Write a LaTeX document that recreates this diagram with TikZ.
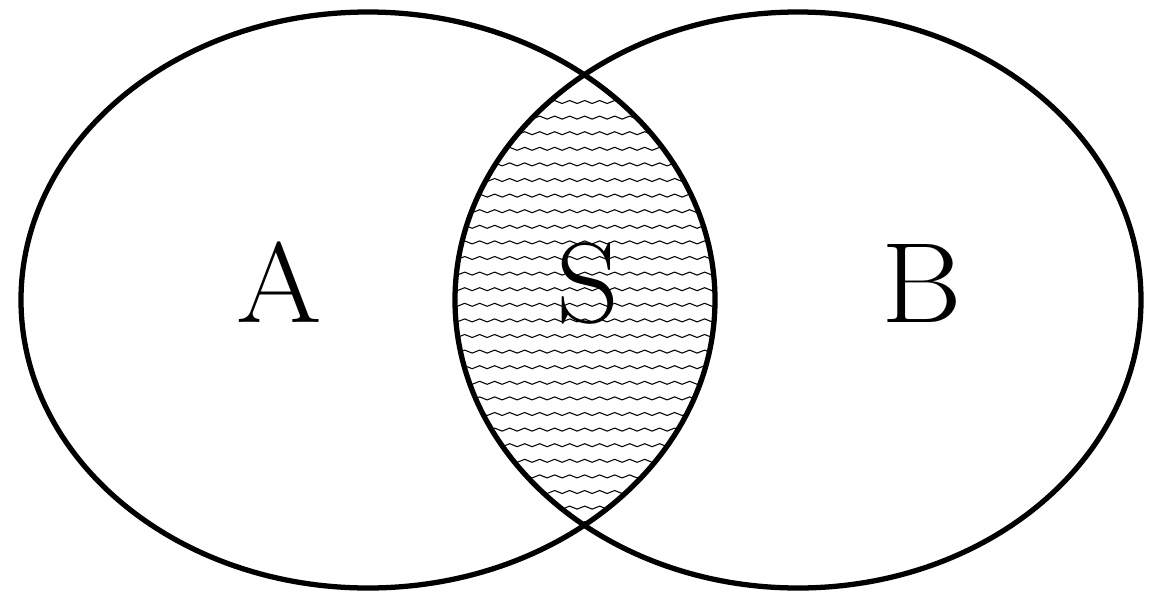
\documentclass[tikz,border=0pt]{standalone}
\usetikzlibrary{decorations.pathmorphing}
\begin{document}
\begin{tikzpicture}[x=0.02cm,y=-0.02cm,
  outline/.style={line width=3pt},
  hatch/.style={line width=0.6pt, decorate, decoration={snake, segment length=0.3cm, amplitude=0.03cm}},
  letter/.style={font=\fontsize{65}{78}\selectfont, anchor=base, inner sep=0pt}]
\useasboundingbox (0,0) rectangle (1153,602);
\begin{scope}
  \clip (368,300) ellipse [x radius=347, y radius=288];
  \clip (798,300) ellipse [x radius=343, y radius=288];
  \foreach \k in {0,...,28}
    \draw[hatch] (430,{102+15.6*\k}) -- (750,{102+15.6*\k});
\end{scope}
\draw[outline] (368,300) ellipse [x radius=347, y radius=288];
\draw[outline] (798,300) ellipse [x radius=343, y radius=288];
\node[letter] (A) at (279,322) {\scalebox{1.08}[1]{A}};
\node[letter] (S) at (588,322) {\scalebox{1.08}[1]{S}};
\node[letter] (B) at (922,322) {\scalebox{1.08}[1]{B}};
\end{tikzpicture}
\end{document}
